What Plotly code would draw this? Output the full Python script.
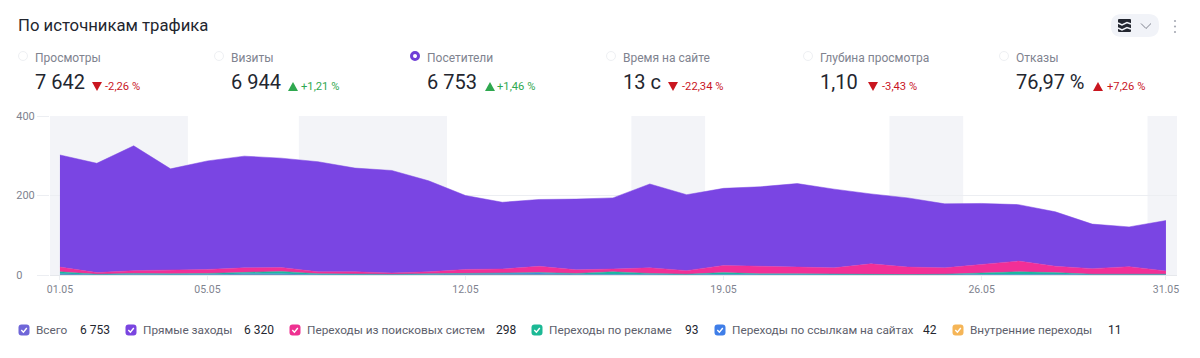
import plotly.graph_objects as go

# ---------- data ----------
day_labels = [f"{d:02d}.05" for d in range(1, 32)]
days = list(range(31))
tick_days = [0, 4, 11, 18, 25, 30]
y_ticks = [0, 200, 400]

total_top = [302, 281, 325, 267, 287, 299, 294, 285, 269, 263, 237, 200, 183, 190, 191, 194,
             229, 202, 218, 222, 230, 216, 204, 194, 179, 180, 177, 159, 128, 121, 137]
internal = [0, 0, 1, 0, 0, 1, 1, 0, 0, 0, 0, 1, 1, 1, 0, 1, 1, 0, 1, 0, 0, 0, 0, 0, 0, 0, 1, 1, 0, 0, 0]
links = [3, 1, 1, 1, 1, 2, 2, 1, 1, 1, 2, 2, 3, 4, 2, 1, 1, 1, 1, 1, 1, 1, 0, 1, 1, 1, 1, 1, 1, 1, 1]
ads = [5, 1, 2, 2, 3, 4, 6, 2, 1, 1, 1, 1, 2, 1, 2, 6, 2, 1, 4, 2, 2, 1, 1, 0, 1, 4, 6, 4, 1, 1, 1]
search = [12, 4, 7, 9, 10, 11, 10, 5, 6, 3, 5, 10, 9, 16, 9, 7, 14, 9, 18, 19, 17, 16, 27, 19, 16, 22, 27, 16, 14, 19, 8]
direct = [t - a - b - c - d for t, a, b, c, d in zip(total_top, internal, links, ads, search)]

series_names = ["Внутренние переходы", "Переходы по ссылкам на сайтах", "Переходы по рекламе",
                "Переходы из поисковых систем", "Прямые заходы"]
series_values = [internal, links, ads, search, direct]
series_colors = ["#f5b557", "#3f8fe0", "#1cb9a0", "#f22f96", "#7a45e3"]

band_spans = [(-0.27, 3.47), (6.48, 10.5), (15.5, 17.5), (22.5, 24.5), (29.5, 30.3)]

title = "По источникам трафика"
kpi_names = ["Просмотры", "Визиты", "Посетители", "Время на сайте", "Глубина просмотра", "Отказы"]
kpi_values = ["7 642", "6 944", "6 753", "13 с", "1,10", "76,97 %"]
kpi_deltas = ["-2,26 %", "+1,21 %", "+1,46 %", "-22,34 %", "-3,43 %", "+7,26 %"]
kpi_up = [False, True, True, False, False, True]
kpi_bad = [True, False, False, True, True, True]

legend_names = ["Всего", "Прямые заходы", "Переходы из поисковых систем", "Переходы по рекламе",
                "Переходы по ссылкам на сайтах", "Внутренние переходы"]
legend_totals = ["6 753", "6 320", "298", "93", "42", "11"]
legend_colors = ["#6f66d8", "#7a45e0", "#ee3191", "#1cb995", "#3f7ee8", "#f5b557"]

# ---------- layout geometry (the page body adds an 8 px offset) ----------
OFF = 8
W, H = 1192, 350
L, R, T, B = 42, 23, 108, 83
PW, PH = W - L - R, H - T - B
FONT = "Roboto"
def px(x): return (x - OFF - L) / PW
def py(y): return (H - B - (y - OFF)) / PH

annotations, shapes = [], []
def text(x, y, s, size, color, anchor="left"):
    annotations.append(dict(x=px(x), y=py(y), xref="paper", yref="paper", text=s, showarrow=False,
                            xanchor=anchor, yanchor="middle", align="left",
                            font=dict(family=FONT, size=size, color=color), borderpad=0, borderwidth=0))
def circle(cx, cy, r, fill, line, lw):
    shapes.append(dict(type="circle", xref="paper", yref="paper", x0=px(cx - r), x1=px(cx + r),
                       y0=py(cy + r), y1=py(cy - r), fillcolor=fill, line=dict(color=line, width=lw)))
def path(points, fill=None, line=None, lw=0, close=False):
    d = "M" + " L".join(f"{px(a):.5f},{py(b):.5f}" for a, b in points) + (" Z" if close else "")
    shapes.append(dict(type="path", xref="paper", yref="paper", path=d,
                       fillcolor=fill or "rgba(0,0,0,0)", line=dict(color=line or "rgba(0,0,0,0)", width=lw)))
def round_rect(x0, y0, x1, y1, r, fill):
    def f(x, y): return f"{px(x):.5f},{py(y):.5f}"
    d = (f"M{f(x0 + r, y0)} L{f(x1 - r, y0)} Q{f(x1, y0)} {f(x1, y0 + r)} L{f(x1, y1 - r)} "
         f"Q{f(x1, y1)} {f(x1 - r, y1)} L{f(x0 + r, y1)} Q{f(x0, y1)} {f(x0, y1 - r)} "
         f"L{f(x0, y0 + r)} Q{f(x0, y0)} {f(x0 + r, y0)} Z")
    shapes.append(dict(type="path", xref="paper", yref="paper", path=d, fillcolor=fill, line=dict(width=0)))

# title
text(18, 26, title, 16.7, "#23262f")

# KPI row
col_x = [35, 231, 427, 623, 820, 1016]
delta_x = [92, 288, 485, 668, 868, 1093]
text_x = [105, 301, 497, 682, 882, 1107]
for i, name in enumerate(kpi_names):
    if name == "Посетители":
        circle(col_x[i] - 12, 56, 3.5, "#ffffff", "#6f3fd6", 3)
    else:
        circle(col_x[i] - 12, 56, 4.5, "#ffffff", "#eef0f3", 1)
    text(col_x[i], 58, name, 12, "#80838f")
    text(col_x[i], 82, kpi_values[i], 20, "#23262f")
    color = "#c9161f" if kpi_bad[i] else "#2fa84f"
    tx = delta_x[i]
    if kpi_up[i]:
        path([(tx, 91), (tx + 10, 91), (tx + 5, 82)], fill=color, close=True)
    else:
        path([(tx, 82), (tx + 10, 82), (tx + 5, 91)], fill=color, close=True)
    text(text_x[i], 86, kpi_deltas[i], 11.2, color)

# top-right controls
round_rect(1111, 14, 1159, 37, 11, "#f1f3f8")
round_rect(1118, 19, 1131, 32, 1, "#23262f")
path([(1118, 23), (1122, 25), (1127, 22.5), (1131, 24)], line="#f1f3f8", lw=1.5)
path([(1118, 28), (1122, 30), (1127, 27.5), (1131, 29)], line="#f1f3f8", lw=1.5)
path([(1141, 23.5), (1146, 28.5), (1151, 23.5)], line="#80838f", lw=1)
for yy in (21, 26.5, 32):
    circle(1175, yy, 1.1, "#a8abb5", "#a8abb5", 0)

# legend row
sw_x = [24, 131, 295, 537, 720, 958]
val_x = [80, 244, 496, 685, 923, 1108]
LY = 330
for i, name in enumerate(legend_names):
    c = sw_x[i]
    round_rect(c - 5.5, LY - 5.5, c + 5.5, LY + 5.5, 3, legend_colors[i])
    path([(c - 2.7, LY), (c - 0.6, LY + 2.2), (c + 2.8, LY - 2)], line="#ffffff", lw=1.4)
    text(c + 12, LY, name, 11.8, "#5d606c")
    text(val_x[i], LY, legend_totals[i], 12, "#23262f")

# weekend bands
for a, b in band_spans:
    shapes.append(dict(type="rect", xref="x", yref="paper", x0=a, x1=b, y0=0, y1=1,
                       fillcolor="#f3f4f8", line=dict(width=0), layer="below"))

# ---------- figure ----------
fig = go.Figure()
for name, vals, col in zip(series_names, series_values, series_colors):
    fig.add_trace(go.Scatter(x=days, y=vals, name=name, mode="lines", stackgroup="main",
                             line=dict(color=col, width=0.5), fillcolor=col,
                             hoverinfo="x+y+name"))

y_text = ["0\u2007\u2007", "200", "400"]
fig.update_layout(
    width=W, height=H, autosize=False,
    margin=dict(l=L, r=R, t=T, b=B, pad=0),
    paper_bgcolor="#ffffff", plot_bgcolor="#ffffff",
    showlegend=False, annotations=annotations, shapes=shapes,
    font=dict(family=FONT, size=10.5, color="#80838f"),
    xaxis=dict(range=[-0.27, 30.3], tickmode="array", tickvals=tick_days, automargin=False,
               ticktext=[day_labels[d] for d in tick_days], showgrid=False, zeroline=False,
               showline=False, ticks="outside", ticklen=4, tickcolor="#eceef2",
               tickfont=dict(family=FONT, size=10.5, color="#80838f")),
    yaxis=dict(range=[0, 400], tickmode="array", tickvals=y_ticks, ticktext=y_text, automargin=False,
               showgrid=True, gridcolor="#eceef2", gridwidth=1, zeroline=True,
               zerolinecolor="#e6e8ec", zerolinewidth=1, showline=False, ticks="outside",
               ticklen=12, tickcolor="#eceef2",
               tickfont=dict(family=FONT, size=11, color="#80838f")),
)
fig.write_html("out.html", config={"displayModeBar": False})
